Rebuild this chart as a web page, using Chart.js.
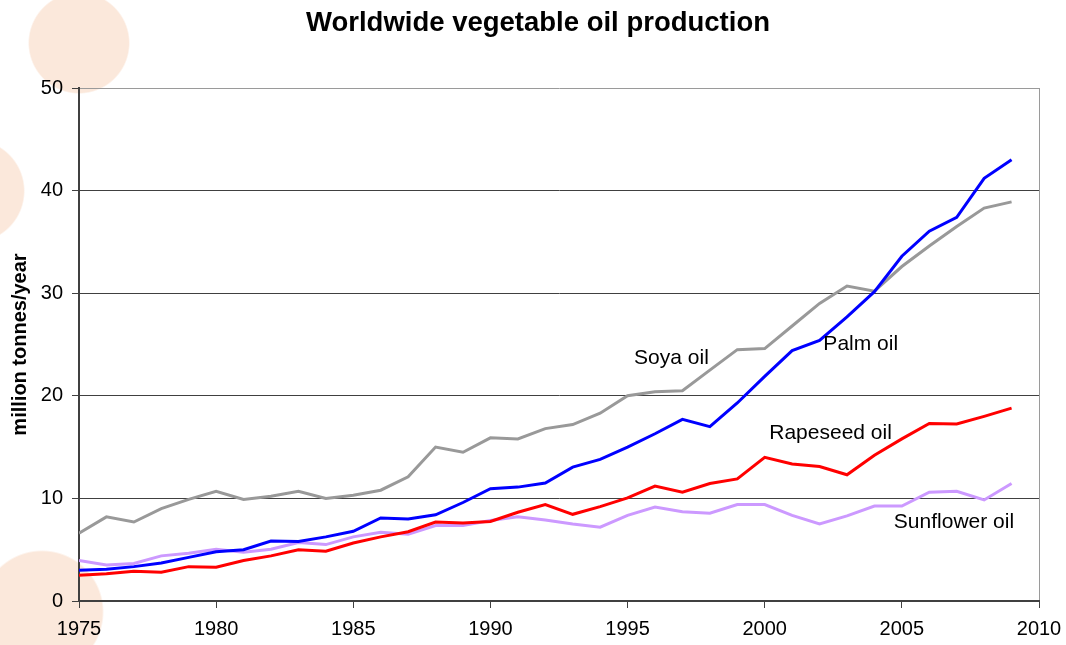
<!DOCTYPE html>
<html>
<head>
<meta charset="utf-8">
<title>Worldwide vegetable oil production</title>
<script src="https://cdn.jsdelivr.net/npm/chart.js@4/dist/chart.umd.min.js"></script>
<style>
    html, body { margin: 0; padding: 0; background: #ffffff; }
    #wrap {
        position: relative;
        width: 1066px;
        height: 645px;
        background:
            radial-gradient(circle 51px at 79px 43px, #fbe8db 97%, rgba(251,232,219,0) 100%),
            radial-gradient(circle 52px at -27px 191px, #fbe8db 97%, rgba(251,232,219,0) 100%),
            radial-gradient(circle 62px at 42px 612px, #fbe8db 97%, rgba(251,232,219,0) 100%),
            #ffffff;
    }
</style>
</head>
<body>
<div id="wrap"><canvas id="chartOil"></canvas></div>
<script>
// production in million tonnes per year
const years = [1975, 1976, 1977, 1978, 1979, 1980, 1981, 1982, 1983, 1984,
               1985, 1986, 1987, 1988, 1989, 1990, 1991, 1992, 1993, 1994,
               1995, 1996, 1997, 1998, 1999, 2000, 2001, 2002, 2003, 2004,
               2005, 2006, 2007, 2008, 2009];

const palmOil = [3.0, 3.1, 3.35, 3.7, 4.25, 4.8, 5.0, 5.85, 5.8, 6.25,
                 6.8, 8.1, 8.0, 8.4, 9.6, 10.95, 11.1, 11.5, 13.05, 13.8,
                 15.0, 16.3, 17.7, 17.0, 19.3, 21.9, 24.4, 25.4, 27.7, 30.15,
                 33.6, 36.05, 37.4, 41.2, 43.0];

const rapeseedOil = [2.5, 2.65, 2.9, 2.8, 3.35, 3.3, 3.95, 4.4, 5.0, 4.85,
                     5.65, 6.25, 6.75, 7.7, 7.6, 7.75, 8.65, 9.4, 8.45, 9.2,
                     10.05, 11.2, 10.6, 11.45, 11.9, 14.0, 13.35, 13.1, 12.3, 14.2,
                     15.8, 17.3, 17.25, 18.0, 18.8];

const soyaOil = [6.6, 8.2, 7.7, 9.0, 9.9, 10.7, 9.9, 10.2, 10.7, 10.0,
                 10.3, 10.8, 12.1, 15.0, 14.5, 15.9, 15.8, 16.8, 17.2, 18.3,
                 20.0, 20.4, 20.5, 22.5, 24.5, 24.6, 26.8, 29.0, 30.7, 30.2,
                 32.6, 34.6, 36.5, 38.3, 38.9];

const sunflowerOil = [3.95, 3.5, 3.65, 4.4, 4.65, 5.05, 4.75, 5.05, 5.7, 5.5,
                      6.25, 6.7, 6.5, 7.35, 7.35, 7.85, 8.2, 7.9, 7.5, 7.2,
                      8.35, 9.15, 8.7, 8.55, 9.4, 9.4, 8.35, 7.5, 8.3, 9.25,
                      9.25, 10.6, 10.7, 9.85, 11.45];

// series names written inside the plot, placed in data units
const seriesLabels = [
    { text: 'Soya oil', x: 1996.6, y: 23.7 },
    { text: 'Palm oil', x: 2003.5, y: 25.05 },
    { text: 'Rapeseed oil', x: 2002.4, y: 16.4 },
    { text: 'Sunflower oil', x: 2006.9, y: 7.7 }
];

const FONT = "'Liberation Sans', Arial, Helvetica, sans-serif";

function toPoints(values) {
    return values.map((v, i) => ({ x: years[i], y: v }));
}

const lineLabels = {
    id: 'lineLabels',
    afterDatasetsDraw(chart) {
        const { ctx, scales } = chart;
        ctx.save();
        ctx.font = '21px ' + FONT;
        ctx.fillStyle = '#000000';
        ctx.textAlign = 'center';
        ctx.textBaseline = 'middle';
        seriesLabels.forEach(l => {
            ctx.fillText(l.text, scales.x.getPixelForValue(l.x), scales.y.getPixelForValue(l.y));
        });
        ctx.restore();
    }
};

const ctx = document.getElementById('chartOil').getContext('2d');
new Chart(ctx, {
    type: 'line',
    data: {
        datasets: [
            { label: 'Palm oil', data: toPoints(palmOil), borderColor: '#0000ff' },
            { label: 'Rapeseed oil', data: toPoints(rapeseedOil), borderColor: '#ff0000' },
            { label: 'Soya oil', data: toPoints(soyaOil), borderColor: '#999999' },
            { label: 'Sunflower oil', data: toPoints(sunflowerOil), borderColor: '#cc99ff' }
        ]
    },
    options: {
        responsive: true,
        maintainAspectRatio: false,
        animation: false,
        layout: { padding: { left: 37, right: 27, top: 0, bottom: 0 } },
        elements: {
            line: { borderWidth: 3, tension: 0, fill: false },
            point: { radius: 0, hitRadius: 0 }
        },
        scales: {
            x: {
                type: 'linear',
                min: 1975,
                max: 2010,
                afterFit: s => {
                    s.height = 44;
                    s.paddingLeft = 0;
                    s.paddingRight = 0;
                },
                ticks: {
                    stepSize: 5,
                    padding: 9,
                    color: '#000000',
                    font: { family: FONT, size: 20 },
                    callback: v => String(v)
                },
                grid: {
                    drawOnChartArea: true,
                    color: c => (c.tick && c.tick.value === 2010) ? '#9a9a9a' : 'rgba(0,0,0,0)',
                    lineWidth: 1,
                    tickLength: 7,
                    tickColor: '#404040'
                },
                border: { display: true, color: '#404040', width: 2 }
            },
            y: {
                min: 0,
                max: 50,
                afterFit: s => { s.width = 42; },
                ticks: {
                    stepSize: 10,
                    padding: 9,
                    color: '#000000',
                    font: { family: FONT, size: 20 }
                },
                grid: {
                    color: c => (c.tick && c.tick.value === 50) ? '#9a9a9a' : '#404040',
                    lineWidth: 1,
                    tickLength: 7,
                    tickColor: '#404040'
                },
                border: { display: true, color: '#404040', width: 2 },
                title: {
                    display: true,
                    text: 'million tonnes/year',
                    color: '#000000',
                    font: { family: FONT, size: 20, weight: 'bold' },
                    padding: { top: -29, bottom: 0 }
                }
            }
        },
        plugins: {
            legend: { display: false },
            tooltip: { enabled: false },
            title: {
                display: true,
                text: 'Worldwide vegetable oil production',
                color: '#000000',
                font: { family: FONT, size: 27.5, weight: 'bold' },
                padding: { top: 7, bottom: 48 }
            }
        }
    },
    plugins: [lineLabels]
});
</script>
</body>
</html>
